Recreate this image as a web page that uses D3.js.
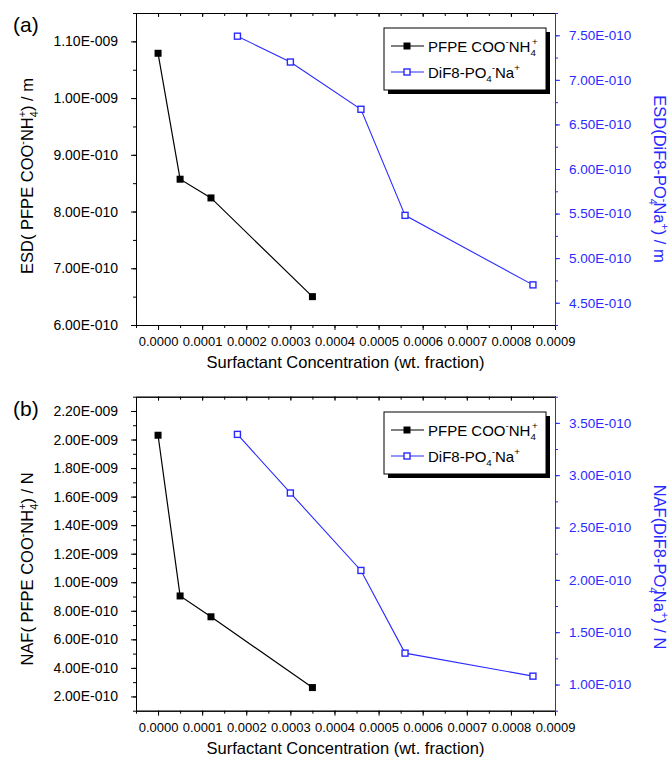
<!DOCTYPE html>
<html>
<head>
<meta charset="utf-8">
<script src="https://cdn.jsdelivr.net/npm/d3@7"></script>
<style>
  body { margin: 0; background: #fff; }
  text { font-family: "Liberation Sans", Arial, sans-serif; }
</style>
</head>
<body>
<div class="chartContainer"></div>
<script>
// concentrations (wt. fraction)
var pfpeConc = [0, 0.00005, 0.00012, 0.00035];
var difConc = [0.00018, 0.0003, 0.00046, 0.00056, 0.00085];

// panel (a) ESD / m
var esdPfpe = [1.079e-9, 8.57e-10, 8.24e-10, 6.50e-10];
var esdDif = [7.49e-10, 7.20e-10, 6.67e-10, 5.48e-10, 4.70e-10];

// panel (b) NAF / N
var nafPfpe = [2.03e-9, 9.04e-10, 7.58e-10, 2.62e-10];
var nafDif = [3.39e-10, 2.83e-10, 2.09e-10, 1.30e-10, 1.08e-10];

// tick labels
var xTicks = [0, 0.0001, 0.0002, 0.0003, 0.0004, 0.0005, 0.0006, 0.0007, 0.0008, 0.0009];
var esdLeftTicks = [6e-10, 7e-10, 8e-10, 9e-10, 1e-9, 1.1e-9];
var esdRightTicks = [4.5e-10, 5e-10, 5.5e-10, 6e-10, 6.5e-10, 7e-10, 7.5e-10];
var nafLeftTicks = [2e-10, 4e-10, 6e-10, 8e-10, 1e-9, 1.2e-9, 1.4e-9, 1.6e-9, 1.8e-9, 2e-9, 2.2e-9];
var nafRightTicks = [1e-10, 1.5e-10, 2e-10, 2.5e-10, 3e-10, 3.5e-10];

var blue = "#2a2aff";
var left = 136, right = 555;

var svg = d3.select(".chartContainer")
    .append("svg")
    .attr("width", 672)
    .attr("height", 757);

var x = d3.scaleLinear().domain([-0.00005, 0.0009]).range([left, right]);
var xMinor = d3.range(-0.00005, 0.000901, 0.00005);

function sciFmt(v) {
    var e = Math.floor(Math.log10(v) + 1e-9);
    var m = v / Math.pow(10, e);
    return m.toFixed(2) + "E" + (e < 0 ? "-" : "+") + String(Math.abs(e)).padStart(3, "0");
}

// text with super/subscripts; part = [str, kind, backshift]
function rich(text, parts, size) {
    var off = 0;
    parts.forEach(function(p) {
        var kind = p[1];
        var target = kind === "sup" ? -0.45 * size : kind === "sub" ? 0.3 * size : 0;
        var t = text.append("tspan")
            .attr("dy", target - off)
            .attr("font-size", kind ? size * 0.65 : size)
            .text(p[0]);
        if (p[2]) t.attr("dx", -p[2]);
        off = target;
    });
}

var pfpeName = [["PFPE COO"], ["-", "sup"], ["NH"], ["4", "sub"], ["+", "sup", 4]];
var difName = [["DiF8-PO"], ["4", "sub"], ["-", "sup"], ["Na"], ["+", "sup"]];

var panels = [
    {
        label: "(a)", top: 13, bottom: 325,
        yL: [6e-10, 1.15e-9], yR: [4.25e-10, 7.75e-10],
        leftTicks: esdLeftTicks, leftStep: 0.5e-10,
        rightTicks: esdRightTicks, rightStep: 0.25e-10,
        pfpe: esdPfpe, dif: esdDif,
        leftTitle: [["ESD( PFPE COO"], ["-", "sup"], ["NH"], ["4", "sub"], ["+", "sup", 6], [") / m"]],
        rightTitle: [["ESD(DiF8-PO"], ["4", "sub"], ["-", "sup", 6], ["Na"], ["+", "sup"], [") / m"]],
        leftTitleY: 176, rightTitleY: 179, legendTop: 28
    },
    {
        label: "(b)", top: 396.7, bottom: 710.7,
        yL: [1e-10, 2.3e-9], yR: [0.75e-10, 3.75e-10],
        leftTicks: nafLeftTicks, leftStep: 1e-10,
        rightTicks: nafRightTicks, rightStep: 0.25e-10,
        pfpe: nafPfpe, dif: nafDif,
        leftTitle: [["NAF( PFPE COO"], ["-", "sup"], ["NH"], ["4", "sub"], ["+", "sup", 6], [") / N"]],
        rightTitle: [["NAF(DiF8-PO"], ["4", "sub"], ["-", "sup", 6], ["Na"], ["+", "sup"], [") / N"]],
        leftTitleY: 569, rightTitleY: 567, legendTop: 412
    }
];

panels.forEach(function(p) {
    var g = svg.append("g");
    var yL = d3.scaleLinear().domain(p.yL).range([p.bottom, p.top]);
    var yR = d3.scaleLinear().domain(p.yR).range([p.bottom, p.top]);
    var leftMinor = d3.range(p.yL[0], p.yL[1] + 1e-13, p.leftStep);
    var rightMinor = d3.range(p.yR[0], p.yR[1] + 1e-13, p.rightStep);

    // bottom axis
    g.append("g").attr("transform", "translate(0," + p.bottom + ")")
        .call(d3.axisBottom(x).tickValues(xMinor).tickSize(3).tickSizeOuter(0).tickFormat(""));
    var bx = g.append("g").attr("transform", "translate(0," + p.bottom + ")")
        .call(d3.axisBottom(x).tickValues(xTicks).tickSize(5).tickSizeOuter(0)
            .tickPadding(7).tickFormat(d3.format(".4f")));
    bx.selectAll("text").attr("font-size", 13).attr("font-family", "Liberation Sans, Arial");

    // top axis, ticks inward
    g.append("g").attr("transform", "translate(0," + p.top + ")")
        .call(d3.axisTop(x).tickValues(xMinor).tickSize(-3).tickSizeOuter(0).tickFormat(""));
    g.append("g").attr("transform", "translate(0," + p.top + ")")
        .call(d3.axisTop(x).tickValues(xTicks).tickSize(-4).tickSizeOuter(0).tickFormat(""));

    // left axis
    g.append("g").attr("transform", "translate(" + left + ",0)")
        .call(d3.axisLeft(yL).tickValues(leftMinor).tickSize(3).tickSizeOuter(0).tickFormat(""));
    var lx = g.append("g").attr("transform", "translate(" + left + ",0)")
        .call(d3.axisLeft(yL).tickValues(p.leftTicks).tickSize(5).tickSizeOuter(0)
            .tickPadding(13).tickFormat(sciFmt));
    lx.selectAll("text").attr("font-size", 14).attr("font-family", "Liberation Sans, Arial");

    // right axis (blue)
    var rm = g.append("g").attr("transform", "translate(" + right + ",0)")
        .call(d3.axisRight(yR).tickValues(rightMinor).tickSize(3).tickSizeOuter(0).tickFormat(""));
    var rx = g.append("g").attr("transform", "translate(" + right + ",0)")
        .call(d3.axisRight(yR).tickValues(p.rightTicks).tickSize(5).tickSizeOuter(0)
            .tickPadding(9).tickFormat(sciFmt));
    rx.selectAll("text").attr("font-size", 13.5).attr("font-family", "Liberation Sans, Arial");
    [rm, rx].forEach(function(a) {
        a.selectAll("path, line").attr("stroke", blue);
        a.selectAll("text").attr("fill", blue);
    });

    // series
    var pfpePts = pfpeConc.map(function(c, i) { return [x(c), yL(p.pfpe[i])]; });
    var difPts = difConc.map(function(c, i) { return [x(c), yR(p.dif[i])]; });

    g.append("path").attr("d", d3.line()(pfpePts))
        .attr("fill", "none").attr("stroke", "#000").attr("stroke-width", 1.2);
    g.append("path").attr("d", d3.line()(difPts))
        .attr("fill", "none").attr("stroke", blue).attr("stroke-width", 1.1);

    g.selectAll(".pf").data(pfpePts).enter().append("rect")
        .attr("x", function(d) { return d[0] - 3.5; })
        .attr("y", function(d) { return d[1] - 3.5; })
        .attr("width", 7).attr("height", 7).attr("fill", "#000");
    g.selectAll(".df").data(difPts).enter().append("rect")
        .attr("x", function(d) { return d[0] - 3; })
        .attr("y", function(d) { return d[1] - 3; })
        .attr("width", 6).attr("height", 6)
        .attr("fill", "#fff").attr("stroke", blue).attr("stroke-width", 1.4);

    // titles
    g.append("text")
        .attr("x", (left + right) / 2).attr("y", p.bottom + 43)
        .attr("text-anchor", "middle").attr("font-size", 16.5)
        .text("Surfactant Concentration (wt. fraction)");

    var lt = g.append("text")
        .attr("transform", "translate(33," + p.leftTitleY + ") rotate(-90)")
        .attr("text-anchor", "middle");
    rich(lt, p.leftTitle, 16.5);

    var rt = g.append("text")
        .attr("transform", "translate(654," + p.rightTitleY + ") rotate(90)")
        .attr("text-anchor", "middle").attr("fill", blue);
    rich(rt, p.rightTitle, 16.5);

    g.append("text").attr("x", 13).attr("y", p.top + 19)
        .attr("font-size", 21).text(p.label);

    // legend
    var lg = g.append("g").attr("transform", "translate(384," + p.legendTop + ")");
    lg.append("rect").attr("x", 4).attr("y", 4).attr("width", 162).attr("height", 62).attr("fill", "#000");
    lg.append("rect").attr("width", 162).attr("height", 62)
        .attr("fill", "#fff").attr("stroke", "#000").attr("stroke-width", 1);

    lg.append("line").attr("x1", 7).attr("x2", 40).attr("y1", 18).attr("y2", 18)
        .attr("stroke", "#000").attr("stroke-width", 1.2);
    lg.append("rect").attr("x", 19.5).attr("y", 14.5).attr("width", 7).attr("height", 7).attr("fill", "#000");
    var t1 = lg.append("text").attr("x", 44).attr("y", 23.5);
    rich(t1, pfpeName, 15);

    lg.append("line").attr("x1", 7).attr("x2", 40).attr("y1", 44).attr("y2", 44)
        .attr("stroke", blue).attr("stroke-width", 1.1);
    lg.append("rect").attr("x", 20).attr("y", 41).attr("width", 6).attr("height", 6)
        .attr("fill", "#fff").attr("stroke", blue).attr("stroke-width", 1.4);
    var t2 = lg.append("text").attr("x", 44).attr("y", 49.5);
    rich(t2, difName, 15);
});
</script>
</body>
</html>
